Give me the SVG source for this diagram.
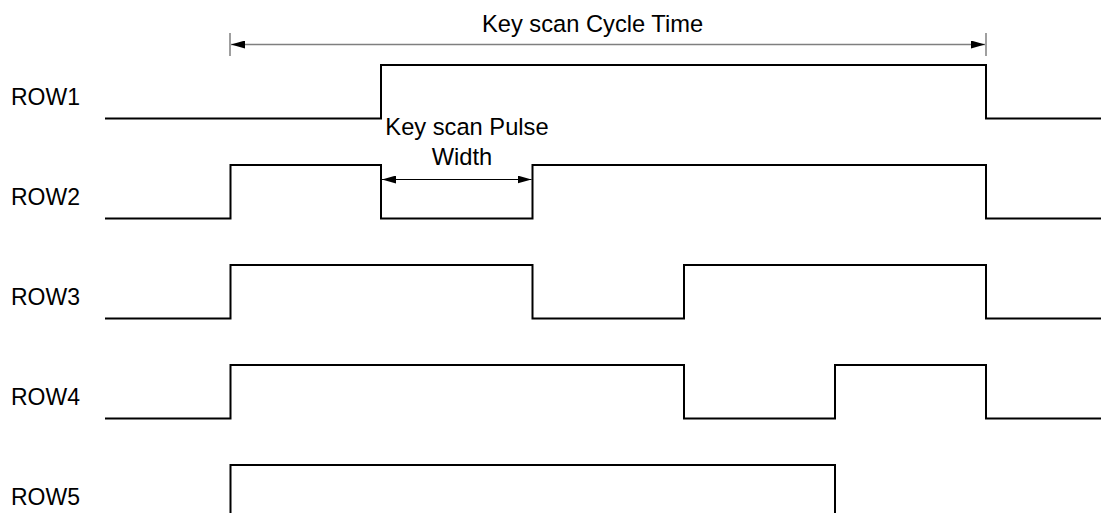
<svg xmlns="http://www.w3.org/2000/svg" width="1101" height="513" viewBox="0 0 1101 513">
<style>
.sig{fill:none;stroke:#000;stroke-width:2;stroke-linejoin:miter}
.lbl{font-family:"Liberation Sans",Arial,sans-serif;font-size:23px;fill:#000}
.note{font-family:"Liberation Sans",Arial,sans-serif;font-size:23.7px;fill:#000;text-anchor:middle}
.dim{fill:none;stroke:#7f7f7f;stroke-width:1.5}
.dim2{fill:none;stroke:#000;stroke-width:1}
</style>
<defs>
<marker id="ah" viewBox="0 0 14 8" refX="14" refY="4" markerWidth="14" markerHeight="8" markerUnits="userSpaceOnUse" orient="auto-start-reverse">
<path d="M0,0 L14,4 L0,8 Z" fill="#000"/>
</marker>
</defs>
<rect width="1101" height="513" fill="#fff"/>
<g id="labels">
<text class="lbl" x="11" y="105">ROW1</text>
<text class="lbl" x="11" y="205">ROW2</text>
<text class="lbl" x="11" y="305">ROW3</text>
<text class="lbl" x="11" y="405">ROW4</text>
<text class="lbl" x="11" y="505">ROW5</text>
</g>
<g id="row1"><path class="sig" d="M105,118.5 H381 V65 H986 V118.5 H1101"/></g>
<g id="row2"><path class="sig" d="M105,218.5 H230.5 V165 H381 V218.5 H532.5 V165 H986 V218.5 H1101"/></g>
<g id="row3"><path class="sig" d="M105,318.5 H230.5 V265 H532.5 V318.5 H684 V265 H986 V318.5 H1101"/></g>
<g id="row4"><path class="sig" d="M105,418.5 H230.5 V365 H684 V418.5 H835 V365 H986 V418.5 H1101"/></g>
<g id="row5"><path class="sig" d="M230.5,514 V465 H835 V514"/></g>
<g id="connectors">
<line class="dim" x1="230" y1="33" x2="230" y2="56"/>
<line class="dim" x1="986" y1="33" x2="986" y2="56"/>
<line class="dim" x1="231" y1="44.5" x2="985" y2="44.5" marker-start="url(#ah)" marker-end="url(#ah)"/>
<line class="dim2" x1="382" y1="179.5" x2="531.5" y2="179.5" marker-start="url(#ah)" marker-end="url(#ah)"/>
</g>
<g id="notes">
<text class="note" x="592.5" y="31.5">Key scan Cycle Time</text>
<text class="note" x="467" y="135">Key scan Pulse</text>
<text class="note" x="462" y="165">Width</text>
</g>
</svg>
